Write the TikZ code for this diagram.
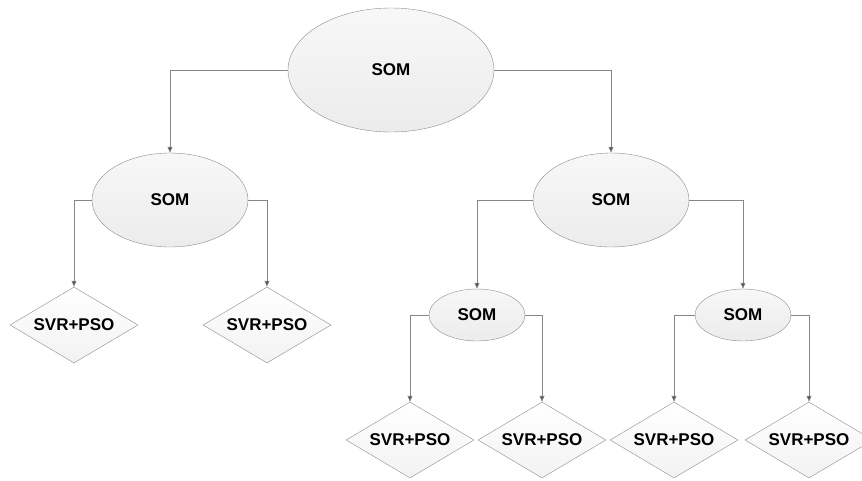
\documentclass[tikz,border=0pt]{standalone}
\usepackage{fontspec}
\setmainfont{Liberation Sans}
\usetikzlibrary{shapes.geometric,arrows.meta}

\begin{document}
\begin{tikzpicture}[
    x=1pt, y=-1pt,
    som/.style={ellipse, draw=gray!90, top color=white!97!black, bottom color=gray!15, inner sep=1pt, font=\bfseries\fontsize{17}{20}\selectfont},
    svr/.style={diamond, draw=gray!90, top color=white, bottom color=gray!10, aspect=1.7, inner sep=1pt, minimum width=128pt, minimum height=76pt, font=\bfseries\fontsize{17}{20}\selectfont},
    conn/.style={draw=gray!95, line width=0.8pt, -{Triangle[length=6pt, width=5pt, fill=gray!140]}}
]

\useasboundingbox (0,0) rectangle (862,480);

% Define node positions
\node[som, minimum width=206pt, minimum height=124pt] (root) at (391, 70) {SOM};
\node[som, minimum width=156pt, minimum height=94pt] (L) at (170, 200) {SOM};
\node[som, minimum width=156pt, minimum height=94pt] (R) at (611, 200) {SOM};
\node[som, minimum width=96pt, minimum height=52pt] (RL) at (477, 315) {SOM};
\node[som, minimum width=96pt, minimum height=52pt] (RR) at (743, 315) {SOM};

% SVR+PSO leaves
\node[svr] (L1) at (74, 325) {SVR+PSO};
\node[svr] (L2) at (267, 325) {SVR+PSO};
\node[svr] (RL1) at (410, 440) {SVR+PSO};
\node[svr] (RL2) at (542, 440) {SVR+PSO};
\node[svr] (RR1) at (674, 440) {SVR+PSO};
\node[svr] (RR2) at (809, 440) {SVR+PSO};

% Draw connectors
\draw[conn] (root.west) -| (L.north);
\draw[conn] (root.east) -| (R.north);
\draw[conn] (L.west) -| (L1.north);
\draw[conn] (L.east) -| (L2.north);
\draw[conn] (R.west) -| (RL.north);
\draw[conn] (R.east) -| (RR.north);
\draw[conn] (RL.west) -| (RL1.north);
\draw[conn] (RL.east) -| (RL2.north);
\draw[conn] (RR.west) -| (RR1.north);
\draw[conn] (RR.east) -| (RR2.north);

\end{tikzpicture}
\end{document}
